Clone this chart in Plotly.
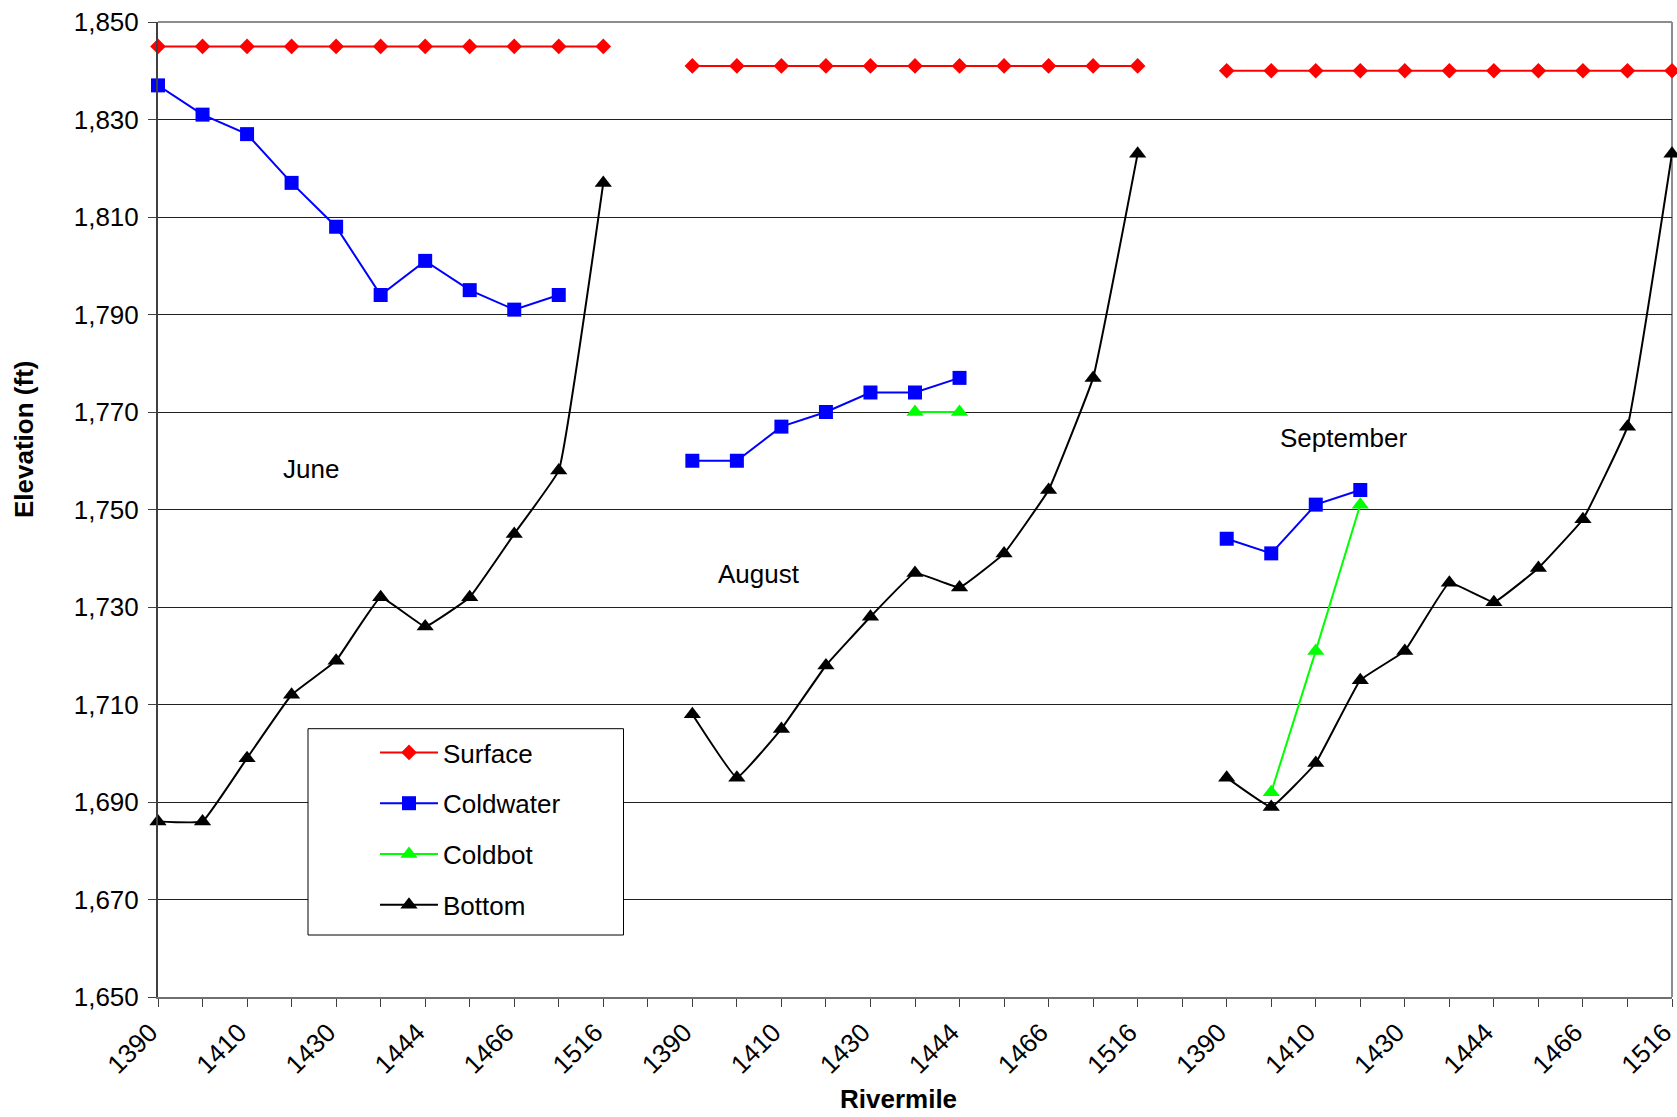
import plotly.graph_objects as go

# ---------------- data ----------------
months = ["June", "August", "September"]
tick_labels = ["1390", "1410", "1430", "1444", "1466", "1516"]  # labelled every 2nd station
n_stations = 11          # stations per month
month_gap = 1            # empty category between months

surface = {
    "June":      [1845] * 11,
    "August":    [1841] * 11,
    "September": [1840] * 11,
}
coldwater = {
    "June":      [1837, 1831, 1827, 1817, 1808, 1794, 1801, 1795, 1791, 1794],
    "August":    [1760, 1760, 1767, 1770, 1774, 1774, 1777],
    "September": [1744, 1741, 1751, 1754],
}
coldbot_start = {"June": 0, "August": 5, "September": 1}
coldbot = {
    "June":      [],
    "August":    [1770, 1770],
    "September": [1692, 1721, 1751],
}
bottom = {
    "June":      [1686, 1686, 1699, 1712, 1719, 1732, 1726, 1732, 1745, 1758, 1817],
    "August":    [1708, 1695, 1705, 1718, 1728, 1737, 1734, 1741, 1754, 1777, 1823],
    "September": [1695, 1689, 1698, 1715, 1721, 1735, 1731, 1738, 1748, 1767, 1823],
}

# --------------- helpers ---------------
offsets = {m: i * (n_stations + month_gap) for i, m in enumerate(months)}
n_cat = len(months) * n_stations + (len(months) - 1) * month_gap


def series(d, start=None):
    xs, ys = [], []
    for m in months:
        vals = d[m]
        if not vals:
            continue
        s = offsets[m] + (start[m] if start else 0)
        xs += [s + i for i in range(len(vals))] + [None]
        ys += list(vals) + [None]
    return xs, ys


tickvals = list(range(n_cat))
ticktext = []
for i in tickvals:
    lab = ""
    for m in months:
        k = i - offsets[m]
        if 0 <= k < n_stations and k % 2 == 0:
            lab = tick_labels[k // 2]
    ticktext.append(lab)

FONT = "Arial, 'Liberation Sans', sans-serif"
FS = 26

fig = go.Figure()

specs = [
    ("Surface", surface, None, "#FF0000", "diamond", 12, "linear"),
    ("Coldwater", coldwater, None, "#0000FF", "square", 14, "linear"),
    ("Coldbot", coldbot, coldbot_start, "#00FF00", "triangle-up", 15, "linear"),
    ("Bottom", bottom, None, "#000000", "triangle-up", 15, "spline"),
]
for name, d, st, col, sym, sz, shape in specs:
    xs, ys = series(d, st)
    fig.add_trace(go.Scatter(
        x=xs, y=ys, name=name, mode="lines+markers",
        line=dict(color=col, width=2, shape=shape, smoothing=0.25),
        marker=dict(color=col, symbol=sym, size=sz, line=dict(width=0)),
        connectgaps=False, cliponaxis=False, legendgroup=name,
    ))

W, H = 1677, 1117
L, R, T, B = 158, 5, 22, 120
pw, ph = W - L - R, H - T - B


def px(x):
    return (x - L) / pw


def py(y):
    return (H - B - y) / ph


fig.update_layout(
    width=W, height=H,
    margin=dict(l=L, r=R, t=T, b=B, autoexpand=False),
    paper_bgcolor="white", plot_bgcolor="white",
    font=dict(family=FONT, size=FS, color="black"),
    showlegend=True,
    legend=dict(
        x=px(375), y=py(729), xanchor="left", yanchor="top",
        bgcolor="rgba(0,0,0,0)", borderwidth=0,
        font=dict(family=FONT, size=FS, color="black"),
        itemwidth=58, tracegroupgap=14, traceorder="grouped",
    ),
    xaxis=dict(
        range=[0, n_cat - 1], tickmode="array", tickvals=tickvals, ticktext=ticktext,
        tickangle=-45, ticks="outside", ticklen=8, tickwidth=1, tickcolor="#404040",
        ticklabelshift=-8, ticklabeloverflow="allow",
        showline=True, linecolor="#707070", linewidth=2, showgrid=False, zeroline=False,
        tickfont=dict(family=FONT, size=FS, color="black"), automargin=False,
    ),
    yaxis=dict(
        range=[1650, 1850], dtick=20, tick0=1650, tickformat=",",
        ticks="outside", ticklen=8, tickwidth=1, tickcolor="#404040",
        ticklabelstandoff=4, ticklabeloverflow="allow",
        showline=True, linecolor="#404040", linewidth=2,
        showgrid=True, gridcolor="#202020", gridwidth=1, zeroline=False,
        tickfont=dict(family=FONT, size=FS, color="black"), automargin=False,
    ),
    shapes=[
        # plot-area frame (top and right edges)
        dict(type="line", xref="paper", yref="paper", x0=0, x1=1, y0=1, y1=1,
             line=dict(color="#8c8c8c", width=2), layer="below"),
        dict(type="line", xref="paper", yref="paper", x0=1, x1=1, y0=0, y1=1,
             line=dict(color="#8c8c8c", width=2), layer="below"),
        # legend box
        dict(type="rect", xref="paper", yref="paper",
             x0=px(308), x1=px(623.5), y0=py(935), y1=py(728.7),
             line=dict(color="black", width=1), fillcolor="white", layer="above"),
    ],
    annotations=[
        dict(text="June", x=px(310.8), y=py(469.4), xref="paper", yref="paper",
             showarrow=False, xanchor="center", yanchor="middle"),
        dict(text="August", x=px(758.8), y=py(573.8), xref="paper", yref="paper",
             showarrow=False, xanchor="center", yanchor="middle"),
        dict(text="September", x=px(1344.2), y=py(438.3), xref="paper", yref="paper",
             showarrow=False, xanchor="center", yanchor="middle"),
        dict(text="<b>Elevation (ft)</b>", x=px(24), y=py(440), xref="paper", yref="paper",
             showarrow=False, textangle=-90, xanchor="center", yanchor="middle"),
        dict(text="<b>Rivermile</b>", x=px(898), y=py(1099), xref="paper", yref="paper",
             showarrow=False, xanchor="center", yanchor="middle"),
    ],
)

fig.write_html(
    "out.html",
    config={"displayModeBar": False},
    post_script="document.body.style.margin='0';document.body.style.overflow='hidden';",
)
